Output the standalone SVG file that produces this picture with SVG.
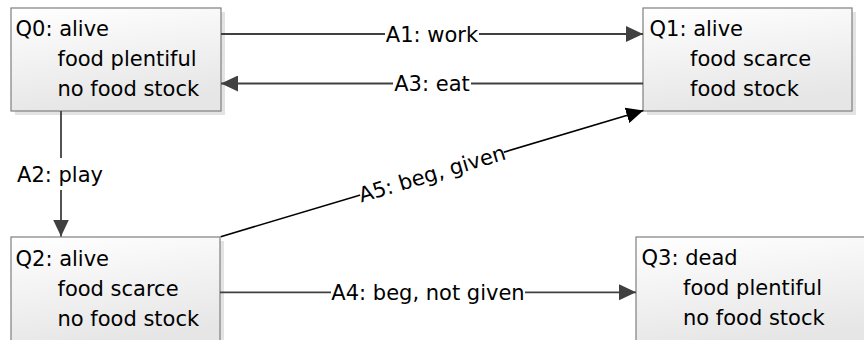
<svg xmlns="http://www.w3.org/2000/svg" width="864" height="340" viewBox="0 0 864 340">
<style>
  .box { fill: url(#g); stroke: #7f7f7f; stroke-width: 1.2; }
  .shadow { fill: #d9d9d9; opacity: 0.75; }
  text { font-family: "DejaVu Sans", "Liberation Sans", sans-serif; font-size: 21px; fill: #000; }
  .lbl { text-anchor: middle; }
  .lbg { fill: #fff; }
  .c { stroke: #404040; stroke-width: 1.8; fill: none; }
  .cb { stroke: #000; stroke-width: 1.6; fill: none; }
</style>
<defs>
  <linearGradient id="g" x1="0" y1="0" x2="0.25" y2="1">
    <stop offset="0" stop-color="#ffffff"/>
    <stop offset="1" stop-color="#e6e6e6"/>
  </linearGradient>
  <marker id="ag" markerUnits="userSpaceOnUse" markerWidth="18" markerHeight="16" refX="17" refY="8" orient="auto">
    <path d="M0,0 L17,8 L0,16 z" fill="#404040"/>
  </marker>
  <marker id="ab" markerUnits="userSpaceOnUse" markerWidth="18" markerHeight="16" refX="17" refY="8" orient="auto">
    <path d="M0,0 L17,8 L0,16 z" fill="#000"/>
  </marker>
</defs>
<rect width="864" height="340" fill="#fff"/>

<g id="Q0">
  <rect class="shadow" x="15" y="12" width="210" height="103"/>
  <rect class="box" x="11" y="8" width="210" height="103"/>
  <text x="15.5" y="36">Q0: alive</text>
  <text x="57.5" y="66">food plentiful</text>
  <text x="57.5" y="96">no food stock</text>
</g>
<g id="Q1">
  <rect class="shadow" x="647" y="12" width="209" height="103"/>
  <rect class="box" x="643" y="8" width="209" height="103"/>
  <text x="649.5" y="36">Q1: alive</text>
  <text x="690" y="66">food scarce</text>
  <text x="690" y="96">food stock</text>
</g>
<g id="Q2">
  <rect class="shadow" x="15" y="241" width="209" height="110"/>
  <rect class="box" x="11" y="237" width="209" height="110"/>
  <text x="15.5" y="266">Q2: alive</text>
  <text x="57.5" y="296">food scarce</text>
  <text x="57.5" y="326">no food stock</text>
</g>
<g id="Q3">
  <rect class="shadow" x="640" y="241" width="240" height="110"/>
  <rect class="box" x="636" y="237" width="240" height="110"/>
  <text x="641.5" y="265">Q3: dead</text>
  <text x="683" y="295">food plentiful</text>
  <text x="683" y="325">no food stock</text>
</g>

<g id="connectors">
  <g id="A1">
    <line class="c" x1="221" y1="34" x2="643" y2="34" marker-end="url(#ag)"/>
    <rect class="lbg" x="385" y="25" width="94" height="18"/>
    <text class="lbl" x="432" y="41.5">A1: work</text>
  </g>
  <g id="A3">
    <line class="c" x1="643" y1="83.5" x2="221" y2="83.5" marker-end="url(#ag)"/>
    <rect class="lbg" x="393" y="75" width="78" height="18"/>
    <text class="lbl" x="432" y="91">A3: eat</text>
  </g>
  <g id="A2">
    <line class="c" x1="61" y1="111" x2="61" y2="236.5" marker-end="url(#ag)"/>
    <rect class="lbg" x="15" y="158" width="92" height="32"/>
    <text class="lbl" x="60" y="181.5">A2: play</text>
  </g>
  <g id="A4">
    <line class="c" x1="220" y1="292.3" x2="636" y2="292.3" marker-end="url(#ag)"/>
    <rect class="lbg" x="331" y="283" width="194" height="18"/>
    <text class="lbl" x="428" y="299.5">A4: beg, not given</text>
  </g>
  <g id="A5">
    <line class="cb" x1="220.7" y1="236.7" x2="643.3" y2="110.5" marker-end="url(#ab)"/>
    <g transform="translate(432,173.6) rotate(-16.63)">
      <rect class="lbg" x="-75" y="-8" width="150" height="16"/>
      <text class="lbl" x="0" y="7.5">A5: beg, given</text>
    </g>
  </g>
</g>
</svg>
